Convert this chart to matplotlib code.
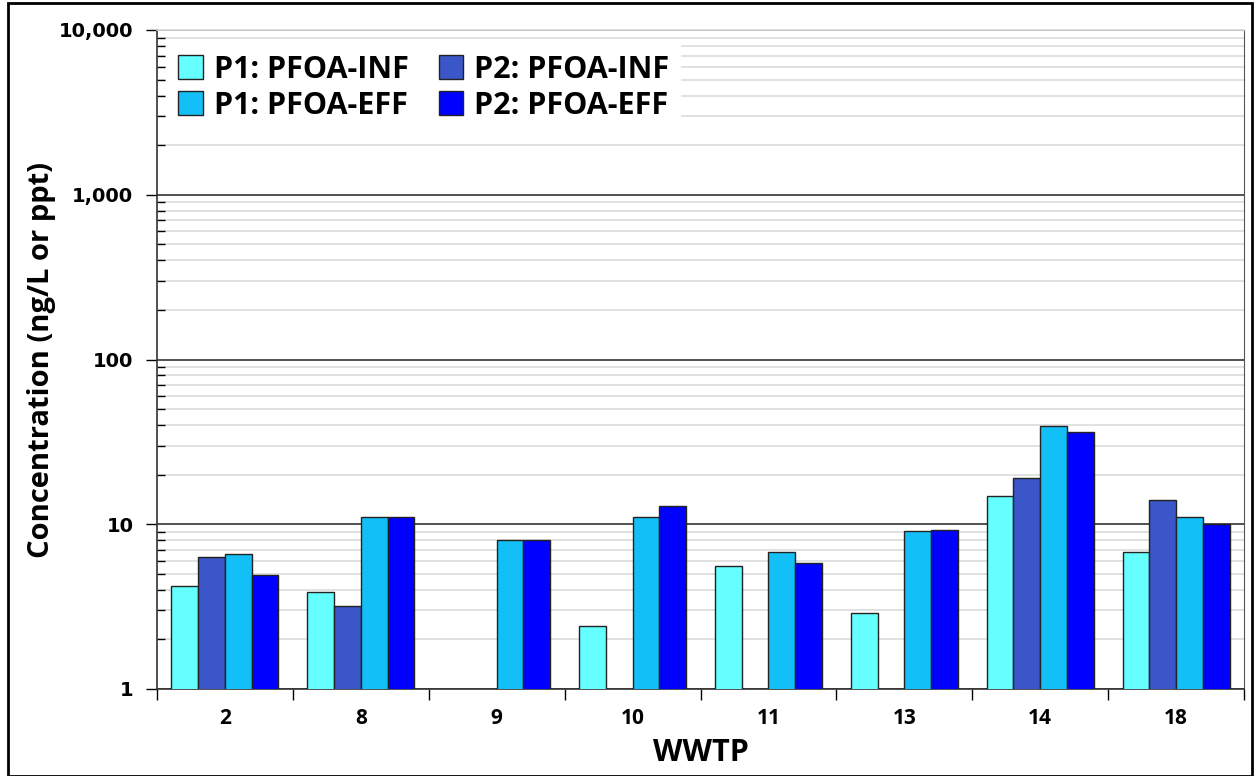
import numpy as np
import matplotlib
matplotlib.use("Agg")
import matplotlib.pyplot as plt
from matplotlib import font_manager
from matplotlib.ticker import FixedLocator, LogLocator, NullFormatter, FuncFormatter
from matplotlib.patches import Rectangle

# --- data ---
wwtp = ["2", "8", "9", "10", "11", "13", "14", "18"]
p1_inf = [4.2, 3.9, np.nan, 2.4, 5.6, 2.9, 14.9, 6.8]
p2_inf = [6.3, 3.2, np.nan, np.nan, np.nan, np.nan, 19.0, 14.0]
p1_eff = [6.6, 11.0, 8.0, 11.0, 6.8, 9.1, 39.3, 11.0]
p2_eff = [4.9, 11.0, 8.0, 12.9, 5.8, 9.2, 36.3, 10.0]

series = [
    ("P1: PFOA-INF", p1_inf, "#66FFFF"),
    ("P2: PFOA-INF", p2_inf, "#3A56C8"),
    ("P1: PFOA-EFF", p1_eff, "#12BFF7"),
    ("P2: PFOA-EFF", p2_eff, "#0000FF"),
]

names = {f.name for f in font_manager.fontManager.ttflist}
narrow = "Liberation Sans Narrow" if "Liberation Sans Narrow" in names else "Open Sans"

fig = plt.figure(figsize=(12.59, 7.76), dpi=100)
ax = fig.add_axes([157 / 1259, 1 - 689 / 776, (1244 - 157) / 1259, (689 - 30) / 776])

x = np.arange(len(wwtp))
w = 0.197
bars = []
for i, (lab, vals, col) in enumerate(series):
    b = ax.bar(x + (i - 1.5) * w, vals, w, color=col, edgecolor="#222222",
               linewidth=1.0, label=lab, zorder=3)
    bars.append(b)

ax.set_yscale("log")
ax.set_ylim(1, 10000)
ax.set_xlim(-0.5, len(wwtp) - 0.5)

# y ticks
ax.yaxis.set_major_locator(FixedLocator([1, 10, 100, 1000, 10000]))
ax.yaxis.set_major_formatter(FuncFormatter(lambda v, p: f"{v:,.0f}"))
ax.yaxis.set_minor_locator(LogLocator(base=10, subs=np.arange(2, 10)))
ax.yaxis.set_minor_formatter(NullFormatter())
ax.tick_params(axis="y", which="major", direction="out", length=8, width=1,
               labelsize=14, pad=9)
ax.tick_params(axis="y", which="minor", direction="in", length=6, width=1)
for t in ax.get_yticklabels():
    t.set_fontweight("bold")
    t.set_family("DejaVu Sans")

ax.grid(True, which="major", axis="y", color="#333333", linewidth=1.2, zorder=1)
ax.grid(True, which="minor", axis="y", color="#dcdcdc", linewidth=1.2, zorder=1)

# x ticks at group boundaries, labels at centres
ax.set_xticks(np.arange(-0.5, len(wwtp)), minor=False)
ax.set_xticklabels([])
ax.set_xticks(x, minor=True)
ax.set_xticklabels(wwtp, minor=True, fontsize=15, fontweight="bold", family=narrow)
ax.tick_params(axis="x", which="major", direction="out", length=8, width=1)
ax.tick_params(axis="x", which="minor", length=0, pad=14)

for s in ["left", "bottom"]:
    ax.spines[s].set_color("#333333")
    ax.spines[s].set_linewidth(1.2)
ax.spines["right"].set_color("#555555")
ax.spines["top"].set_color("#dcdcdc")
ax.spines["top"].set_linewidth(1.2)

ax.set_xlabel("WWTP", fontsize=22, fontweight="bold", family=narrow, labelpad=6)
ax.set_ylabel("Concentration (ng/L or ppt)", fontsize=21, fontweight="bold",
              family=narrow, labelpad=2)

handles = [bars[0], bars[2], bars[1], bars[3]]
labels = [series[0][0], series[2][0], series[1][0], series[3][0]]
leg = ax.legend(handles, labels, ncol=2, loc="upper left",
                bbox_to_anchor=(0.0, 0.995), frameon=True, fancybox=False,
                edgecolor="none", facecolor="white", framealpha=1,
                prop={"family": narrow, "weight": "bold", "size": 22},
                handlelength=0.8, handleheight=0.8, handletextpad=0.35,
                columnspacing=1.0, labelspacing=0.2, borderaxespad=0.3)
leg.set_zorder(5)

fig.patches.append(Rectangle((8 / 1259, 0), (1252 - 8) / 1259, 1 - 3 / 776,
                             transform=fig.transFigure, fill=False,
                             edgecolor="black", linewidth=2))

fig.savefig("out.png", dpi=100)
